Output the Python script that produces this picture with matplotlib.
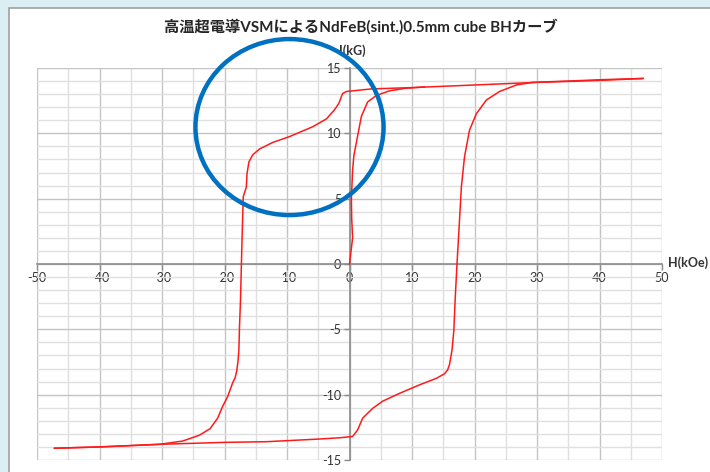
import matplotlib
matplotlib.use("Agg")
import matplotlib.pyplot as plt
from matplotlib.patches import Ellipse, Rectangle
from matplotlib.ticker import MultipleLocator

plt.rcParams['font.family'] = ['Lato', 'Noto Sans CJK JP', 'DejaVu Sans']
plt.rcParams['axes.unicode_minus'] = False

# virgin curve (kOe, kG)
virgin_H = [0, 0.25, 0.5, 0.35, 0.3, 0.5, 0.7, 1.1, 1.9, 2.9, 4.3, 6.4, 9, 12]
virgin_I = [0, 1.0, 2.0, 3.5, 5.0, 7.2, 8.3, 9.3, 11.3, 12.4, 12.9, 13.25, 13.45, 13.55]

# descending branch, +H -> -H
desc_H = [47, 40, 30, 20, 10, 3.5, -0.5, -1.1, -1.7, -2.4, -3.7, -5.9, -9.6,
          -12.3, -14.4, -15.5, -16.1, -16.4, -16.5, -17.0, -17.2, -17.44, -17.6,
          -17.7, -17.85, -18.05, -18.3, -18.7, -19.5, -20.3, -21.1, -22.3, -24, -26.7,
          -30.4, -40, -47.2]
desc_I = [14.2, 14.05, 13.9, 13.7, 13.5, 13.4, 13.2, 13.05, 12.3, 11.8, 11.1, 10.5, 9.75,
          9.3, 8.8, 8.35, 7.8, 6.9, 5.9, 5.15, 1.8, -2.75, -4.8,
          -6.6, -7.5, -8.2, -8.7, -9.1, -10.15, -10.9, -11.8, -12.6, -13.1, -13.55,
          -13.8, -14.0, -14.1]

# ascending branch, -H -> +H
asc_H = [-47.2, -40, -30.4, -20, -13.3, -5, -1.6, 0.5, 1.3, 2.1, 3.7, 5.3, 8, 11.2,
         13.9, 15.2, 15.7, 16.0, 16.4, 16.7, 16.9, 17.2, 17.5, 17.9, 18.4, 19.2,
         20.3, 21.9, 24, 26.7, 29.3, 35, 40, 46.9]
asc_I = [-14.1, -14.0, -13.8, -13.65, -13.6, -13.4, -13.3, -13.2, -12.7, -11.8, -11.05, -10.5, -9.9, -9.25,
         -8.75, -8.4, -8.1, -7.7, -6.6, -5.05, -2.75, 0.0, 2.5, 5.9, 8.2, 10.25,
         11.5, 12.55, 13.2, 13.7, 13.9, 14.0, 14.1, 14.2]

x_ticks = list(range(-50, 51, 10))
y_ticks = list(range(-15, 16, 5))

fig = plt.figure(figsize=(7.1, 4.72), dpi=100)
fig.patch.set_facecolor('#DBEEF4')

# white chart area with grey border
fig.patches.append(Rectangle((9 / 710, -0.1), 1.1, 1 - 8 / 472 + 0.1,
                             transform=fig.transFigure, facecolor='white',
                             edgecolor='#A0A0A0', linewidth=1.2, zorder=-5))

ax = fig.add_axes([37 / 710, 12 / 472, 625 / 710, 392 / 472])
ax.set_facecolor('none')
ax.set_xlim(-50, 50)
ax.set_ylim(-15, 15)

ax.set_xticks(x_ticks)
ax.set_yticks(y_ticks)
ax.xaxis.set_minor_locator(MultipleLocator(5))
ax.yaxis.set_minor_locator(MultipleLocator(1))
ax.grid(which='minor', color='#E0E0E0', linewidth=1.0, zorder=0)
ax.grid(which='major', color='#C4C4C4', linewidth=1.0, zorder=0)
ax.set_axisbelow(True)

for side in ['top', 'right']:
    ax.spines[side].set_visible(False)
for side in ['left', 'bottom']:
    ax.spines[side].set_position(('data', 0))
    ax.spines[side].set_color('#8C8C8C')
    ax.spines[side].set_linewidth(1.2)

ax.tick_params(which='major', direction='out', length=4, width=1, color='#8C8C8C',
               labelsize=9, labelcolor='#333333', pad=2)
ax.tick_params(which='minor', length=0)

ax.plot(virgin_H, virgin_I, color='#FF1A1A', linewidth=1.1, zorder=3)
ax.plot(desc_H, desc_I, color='#FF1A1A', linewidth=1.1, zorder=3)
ax.plot(asc_H, asc_I, color='#FF1A1A', linewidth=1.1, zorder=3)

ax.add_patch(Ellipse((-9.6, 10.48), 30.1, 13.47, fill=False, edgecolor='#0070C0',
                     linewidth=3.2, zorder=4, clip_on=False))

ax.text(0.5, 16.3, 'I(kG)', ha='center', va='center', fontsize=9, fontweight='bold',
        color='#333333')
ax.text(51, 0.1, 'H(kOe)', ha='left', va='center', fontsize=9, fontweight='bold',
        color='#333333', clip_on=False)

fig.text(361 / 710, 1 - 27 / 472, '高温超電導VSMによるNdFeB(sint.)0.5mm cube BHカーブ',
         ha='center', va='center', fontsize=11, fontweight='bold', color='#262626')

fig.savefig('out.png', dpi=100, facecolor=fig.get_facecolor())
